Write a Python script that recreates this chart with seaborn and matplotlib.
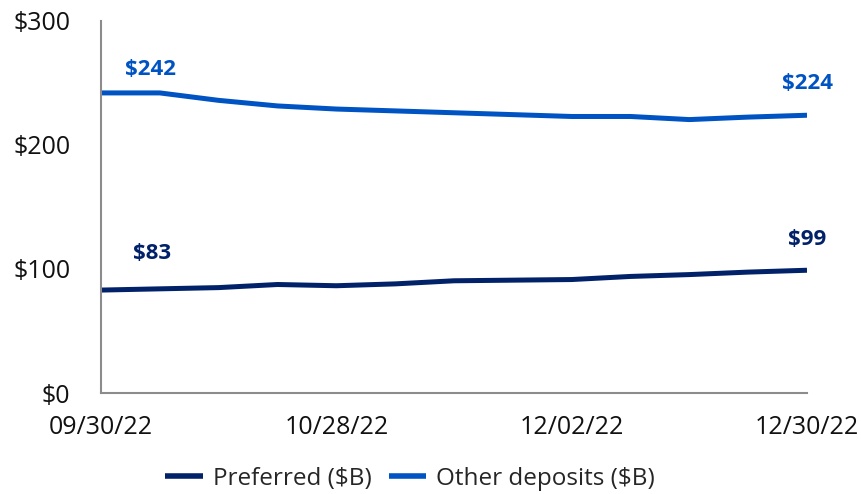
import matplotlib
matplotlib.use("Agg")
from matplotlib import pyplot as plt
import seaborn as sns
import pandas as pd

# weekly balances, $B
dates = ["09/30/22", "10/07/22", "10/14/22", "10/21/22", "10/28/22", "11/04/22", "11/11/22",
         "11/18/22", "12/02/22", "12/09/22", "12/16/22", "12/23/22", "12/30/22"]
preferred = [83, 84, 85, 87.5, 86.5, 88, 90.5, 91, 91.5, 94, 95.5, 97.5, 99]
other_deposits = [242, 242, 236, 231.5, 229, 227.5, 226, 224.5, 223, 223, 220.5, 222.5, 224]
tick_dates = ["09/30/22", "10/28/22", "12/02/22", "12/30/22"]
y_ticks = [0, 100, 200, 300]

navy = "#012169"
blue = "#0053C2"

sns.set_style("white")
plt.rcParams['font.family'] = ['Open Sans', 'DejaVu Sans']

df = pd.DataFrame({
    'idx': list(range(len(dates))) * 2,
    'value': preferred + other_deposits,
    'series': ['Preferred ($B)'] * len(dates) + ['Other deposits ($B)'] * len(dates),
})

fig = plt.figure(figsize=(8.61, 4.94), dpi=100)
ax = fig.add_axes([101 / 861, 1 - 393 / 494, 706 / 861, 372 / 494])

sns.lineplot(data=df, x='idx', y='value', hue='series',
             palette={'Preferred ($B)': navy, 'Other deposits ($B)': blue},
             linewidth=3.6, ax=ax, legend=True)
for ln in ax.lines:
    ln.set_solid_joinstyle('round')
    ln.set_solid_capstyle('butt')

ax.set_xlim(0, len(dates) - 1)
ax.set_ylim(0, 300)
ax.set_xticks([dates.index(d) for d in tick_dates])
ax.set_xticklabels(tick_dates)
ax.set_yticks(y_ticks)
ax.set_yticklabels(["$" + str(v) for v in y_ticks])
ax.tick_params(axis='y', length=0, pad=22, labelsize=18, colors='#111111')
ax.tick_params(axis='x', length=0, pad=16, labelsize=18, colors='#111111')
ax.set_xlabel("")
ax.set_ylabel("")

sns.despine(ax=ax)
for s in ['left', 'bottom']:
    ax.spines[s].set_color('#8c8c8c')
    ax.spines[s].set_linewidth(1.5)

# end labels
last = len(dates) - 1
lbl = dict(textcoords='offset points', ha='center', va='center', fontsize=16, fontweight='bold')
ax.annotate("$" + str(round(other_deposits[0])), (0, other_deposits[0]), xytext=(36, 17), color=blue, **lbl)
ax.annotate("$" + str(round(other_deposits[last])), (last, other_deposits[last]), xytext=(0, 23), color=blue, **lbl)
ax.annotate("$" + str(round(preferred[0])), (0, preferred[0]), xytext=(37, 26), color=navy, **lbl)
ax.annotate("$" + str(round(preferred[last])), (last, preferred[last]), xytext=(0, 22), color=navy, **lbl)

handles, labels = ax.get_legend_handles_labels()
ax.legend(handles, labels, loc='center', bbox_to_anchor=(410 / 861, 1 - 479 / 494),
          bbox_transform=fig.transFigure, ncol=2, frameon=False, fontsize=17.5,
          handlelength=1.55, handletextpad=0.4, columnspacing=0.7)
for h in ax.get_legend().get_lines():
    h.set_linewidth(4)

fig.savefig("out.png", dpi=100)
